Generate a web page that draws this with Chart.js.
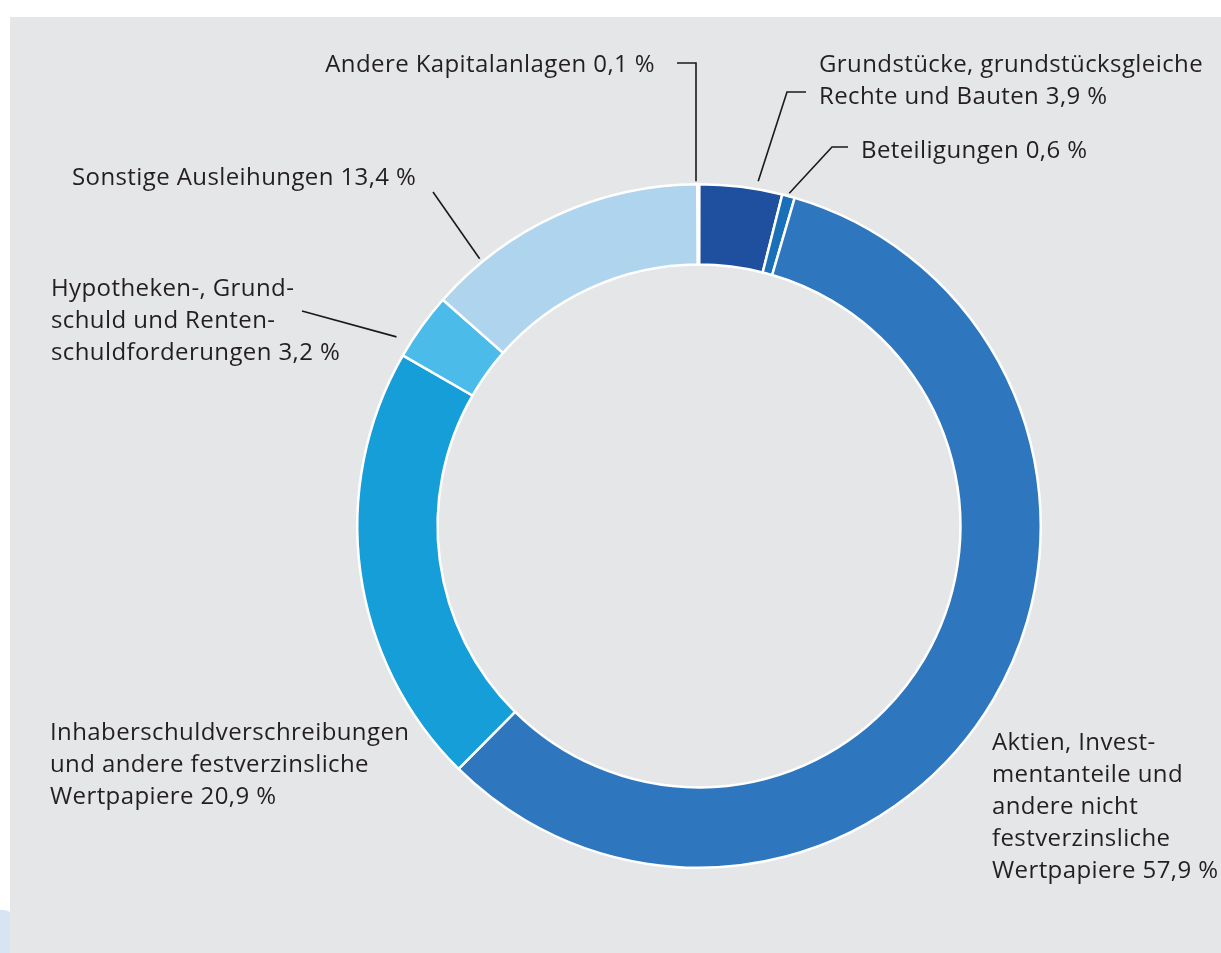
<!DOCTYPE html>
<html>
<head>
<meta charset="utf-8">
<script src="https://cdn.jsdelivr.net/npm/chart.js@4.4.0/dist/chart.umd.min.js"></script>
<style>
  html, body { margin: 0; padding: 0; background: #ffffff; }
  #wrap { position: relative; width: 1221px; height: 953px; overflow: hidden; }
  #deco { position: absolute; left: 0; top: 910px; width: 14px; height: 43px; background: #d7e5f3; border-top-right-radius: 10px; }
  canvas { position: absolute; left: 0; top: 0; }
</style>
</head>
<body>
<div id="wrap">
  <div id="deco"></div>
  <canvas id="chart" width="1221" height="953"></canvas>
</div>
<script>
// Kapitalanlagen, Anteile in %
const categories = [
  'Andere Kapitalanlagen',
  'Grundstücke, grundstücksgleiche Rechte und Bauten',
  'Beteiligungen',
  'Aktien, Investmentanteile und andere nicht festverzinsliche Wertpapiere',
  'Inhaberschuldverschreibungen und andere festverzinsliche Wertpapiere',
  'Hypotheken-, Grundschuld und Rentenschuldforderungen',
  'Sonstige Ausleihungen'
];
const shares = [0.1, 3.9, 0.6, 57.9, 20.9, 3.2, 13.4];
const labelLines = [
  ['Andere Kapitalanlagen 0,1 %'],
  ['Grundstücke, grundstücksgleiche', 'Rechte und Bauten 3,9 %'],
  ['Beteiligungen 0,6 %'],
  ['Aktien, Invest-', 'mentanteile und', 'andere nicht', 'festverzinsliche', 'Wertpapiere 57,9 %'],
  ['Inhaberschuldverschreibungen', 'und andere festverzinsliche', 'Wertpapiere 20,9 %'],
  ['Hypotheken-, Grund-', 'schuld und Renten-', 'schuldforderungen 3,2 %'],
  ['Sonstige Ausleihungen 13,4 %']
];
const colors = ['#ffffff', '#1f4f9f', '#1a6fb9', '#2e76bd', '#169ed8', '#4bbce9', '#afd4ee'];

// label placement: first baseline, alignment, leader elbow and where the leader meets the ring
// at: fraction along the slice, gap: distance outside the ring
const labelPos = [
  { x: 655, y: 72, align: 'right', elbow: [[677, 63], [696, 63]], at: 0.5, gap: 3, vertical: true },
  { x: 819, y: 72, align: 'left', elbow: [[806, 92], [787, 92]], at: 0.69, gap: 8 },
  { x: 861, y: 158, align: 'left', elbow: [[848, 147], [832, 147]], at: 0.5, gap: 3 },
  { x: 992, y: 750, align: 'left' },
  { x: 50, y: 740, align: 'left' },
  { x: 51, y: 296, align: 'left', elbow: [[302, 311]], at: 0.18, gap: 15 },
  { x: 72, y: 185, align: 'left', elbow: [[433, 192]], at: 0.19, gap: 4 }
];
const lineHeight = 32;
const panelBg = '#e5e6e8';
const textColor = '#231f20';

const panelPlugin = {
  id: 'panel',
  beforeDraw(chart) {
    const ctx = chart.ctx;
    ctx.save();
    ctx.fillStyle = panelBg;
    ctx.fillRect(10, 17, chart.width - 10, chart.height - 17);
    ctx.restore();
  }
};

const labelPlugin = {
  id: 'leaderLabels',
  afterDraw(chart) {
    const ctx = chart.ctx;
    const arcs = chart.getDatasetMeta(0).data;
    ctx.save();
    ctx.font = '24px "Open Sans", sans-serif';
    ctx.letterSpacing = '0.4px';
    ctx.fillStyle = textColor;
    ctx.textBaseline = 'alphabetic';
    labelPos.forEach((p, i) => {
      ctx.textAlign = p.align;
      labelLines[i].forEach((line, j) => {
        ctx.fillText(line, p.x, p.y + j * lineHeight);
      });
      if (!p.elbow) return;
      const arc = arcs[i];
      const a = arc.startAngle + (arc.endAngle - arc.startAngle) * p.at;
      const r = arc.outerRadius + p.gap;
      let ex = arc.x + Math.cos(a) * r;
      const ey = arc.y + Math.sin(a) * r;
      const pts = p.elbow.slice();
      if (p.vertical) ex = pts[pts.length - 1][0];
      ctx.beginPath();
      ctx.strokeStyle = '#1a1a1a';
      ctx.lineWidth = 1.6;
      ctx.moveTo(pts[0][0], pts[0][1]);
      for (let k = 1; k < pts.length; k++) ctx.lineTo(pts[k][0], pts[k][1]);
      ctx.lineTo(ex, ey);
      ctx.stroke();
    });
    ctx.restore();
  }
};

new Chart(document.getElementById('chart'), {
  type: 'doughnut',
  data: {
    labels: categories,
    datasets: [{
      data: shares,
      backgroundColor: colors,
      borderColor: '#ffffff',
      borderWidth: 2.5,
      hoverOffset: 0
    }]
  },
  options: {
    responsive: false,
    animation: false,
    cutout: '76.5%',
    rotation: -0.3,
    layout: { padding: { left: 356, right: 179, top: 183, bottom: 84 } },
    plugins: {
      legend: { display: false },
      tooltip: { enabled: false }
    }
  },
  plugins: [panelPlugin, labelPlugin]
});
</script>
</body>
</html>
